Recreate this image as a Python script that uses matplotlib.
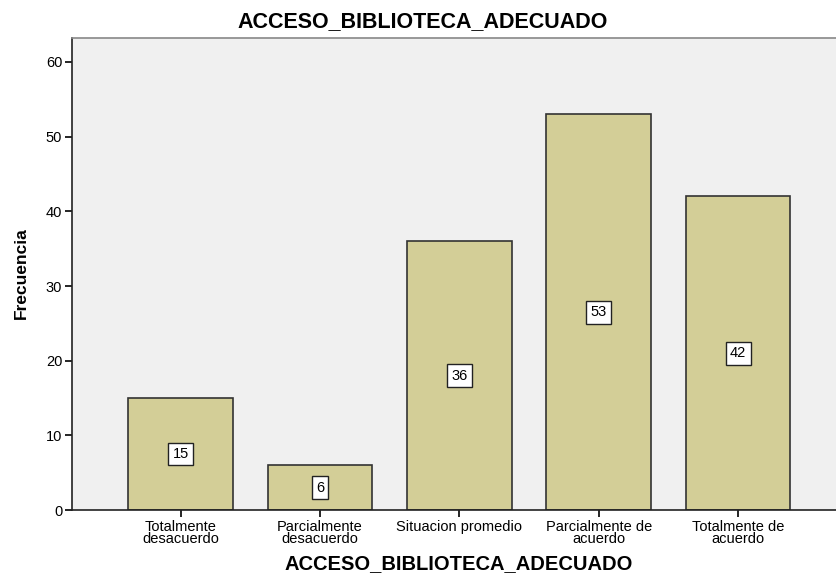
import matplotlib.pyplot as plt

CATEGORIES = ['Totalmente\ndesacuerdo', 'Parcialmente\ndesacuerdo', 'Situacion promedio',
              'Parcialmente de\nacuerdo', 'Totalmente de\nacuerdo']
FRECUENCIAS = [15, 6, 36, 53, 42]
TITLE = 'ACCESO_BIBLIOTECA_ADECUADO'
X_LABEL = 'ACCESO_BIBLIOTECA_ADECUADO'
Y_LABEL = 'Frecuencia'
Y_TICKS = [0, 10, 20, 30, 40, 50, 60]

BAR_COLOR = '#d3ce97'
BG_COLOR = '#f0f0f0'


def main():
    plt.rcParams['font.family'] = ['Liberation Sans', 'DejaVu Sans']
    fig = plt.figure(figsize=(8.37, 5.77), dpi=100)
    ax = fig.add_axes([0.086, 0.116, 0.914, 0.818])
    ax.set_facecolor(BG_COLOR)

    positions = list(range(len(CATEGORIES)))
    bars = ax.bar(positions, FRECUENCIAS, width=0.75, color=BAR_COLOR,
                  edgecolor='#333333', linewidth=1.2, zorder=2)

    for rect, value in zip(bars, FRECUENCIAS):
        ax.text(rect.get_x() + rect.get_width() / 2, value / 2, str(value),
                ha='center', va='center', fontsize=10.5, zorder=3,
                bbox=dict(boxstyle='square,pad=0.3', facecolor='white',
                          edgecolor='#222222', linewidth=1.0))

    ax.set_xlim(-0.78, 4.71)
    ax.set_ylim(0, 63.2)
    ax.set_yticks(Y_TICKS)
    ax.set_xticks(positions)
    ax.set_xticklabels(CATEGORIES, fontsize=10.5, linespacing=0.85)
    ax.tick_params(axis='y', labelsize=10.5, length=5, width=1.2, pad=2)
    ax.tick_params(axis='x', length=5, width=1.2, pad=2)

    ax.spines['right'].set_visible(False)
    ax.spines['top'].set_color('#888888')
    ax.spines['top'].set_linewidth(1.2)
    ax.spines['left'].set_linewidth(1.2)
    ax.spines['bottom'].set_linewidth(1.2)
    ax.spines['left'].set_color('#222222')
    ax.spines['bottom'].set_color('#222222')

    fig.text(0.505, 0.962, TITLE, ha='center', va='center',
             fontsize=15.5, fontweight='bold')
    fig.text(0.548, 0.023, X_LABEL, ha='center', va='center',
             fontsize=14.5, fontweight='bold')
    fig.text(0.026, 0.527, Y_LABEL, ha='center', va='center', rotation=90,
             fontsize=12.5, fontweight='bold')

    fig.savefig('out.png', dpi=100)
    plt.close(fig)


if __name__ == '__main__':
    main()
